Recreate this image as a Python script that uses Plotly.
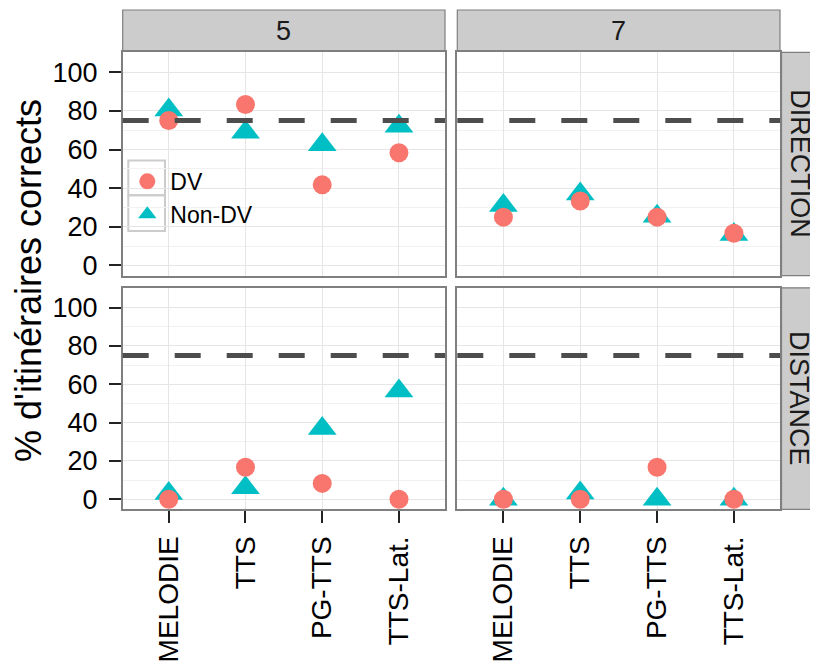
import plotly.graph_objects as go

# ---------------- data ----------------
categories = ["MELODIE", "TTS", "PG-TTS", "TTS-Lat."]
col_labels = ["5", "7"]
row_labels = ["DIRECTION", "DISTANCE"]
series_names = ["DV", "Non-DV"]

dv_5_direction = [75, 83.3, 41.7, 58.3]
nondv_5_direction = [80.5, 69, 62.5, 72]
dv_7_direction = [25, 33.3, 25, 16.7]
nondv_7_direction = [31, 37, 25.5, 16]
dv_5_distance = [0, 16.7, 8.3, 0]
nondv_5_distance = [3, 6, 37, 56.5]
dv_7_distance = [0, 0, 16.7, 0]
nondv_7_distance = [0, 3.3, 0, 0]
threshold = 75

y_ticks = [0, 20, 40, 60, 80, 100]
y_minor = [10, 30, 50, 70, 90]

panel_data = {
    (0, 0): (dv_5_direction, nondv_5_direction),
    (0, 1): (dv_7_direction, nondv_7_direction),
    (1, 0): (dv_5_distance, nondv_5_distance),
    (1, 1): (dv_7_distance, nondv_7_distance),
}

# ---------------- geometry (screen pixels; page body has an 8px margin) ----------------
OFF = 8
W, H = 810, 660
col_px = [(122.7, 445.0), (457.3, 780.0)]
row_px = [(52.7, 277.7), (290.0, 513.3)]
top_strip_px = (10.0, 51.5)
right_strip_px = (781.5, 818.0)

def fx(px):
    return (px - OFF) / W

def fy(py):
    return 1 - (py - OFF) / H

DV_COLOR = "#F8766D"
NDV_COLOR = "#00BFC4"
FONT = "Liberation Sans, Arial, Helvetica, sans-serif"
TICK_SIZE = 27

fig = go.Figure()

def axis_names(r, c):
    i = r * 2 + c + 1
    s = "" if i == 1 else str(i)
    return "x" + s, "y" + s, "xaxis" + s, "yaxis" + s

first = True
for (r, c), (dv_vals, ndv_vals) in panel_data.items():
    xa, ya, xkey, ykey = axis_names(r, c)
    fig.add_trace(go.Scatter(
        x=categories, y=ndv_vals, mode="markers", name=series_names[1],
        marker=dict(symbol="triangle-up", size=25, color=NDV_COLOR, line=dict(width=0)),
        xaxis=xa, yaxis=ya, showlegend=first, legendgroup="ndv", legendrank=2,
    ))
    fig.add_trace(go.Scatter(
        x=categories, y=dv_vals, mode="markers", name=series_names[0],
        marker=dict(symbol="circle", size=19, color=DV_COLOR, line=dict(width=0)),
        xaxis=xa, yaxis=ya, showlegend=first, legendgroup="dv", legendrank=1,
    ))
    first = False

    bottom = (r == 1)
    left = (c == 0)
    fig.layout[xkey] = dict(
        domain=[fx(col_px[c][0]), fx(col_px[c][1])],
        anchor=ya,
        type="category",
        categoryorder="array",
        categoryarray=categories,
        range=[-0.6, 3.6],
        showgrid=True, gridcolor="#E5E5E5", gridwidth=1,
        showline=True, mirror=True, linecolor="#7F7F7F", linewidth=1.5,
        zeroline=False,
        showticklabels=bottom,
        ticks="outside" if bottom else "",
        ticklen=12, tickwidth=2, tickcolor="#222222",
        tickangle=-90,
        ticklabelstandoff=2,
        tickfont=dict(family=FONT, size=28, color="#000000"),
        fixedrange=True,
    )
    fig.layout[ykey] = dict(
        domain=[fy(row_px[r][1]), fy(row_px[r][0])],
        anchor=xa,
        range=[-5.3, 110.3],
        tickmode="array", tickvals=y_ticks, ticktext=[str(v) for v in y_ticks],
        showgrid=True, gridcolor="#E5E5E5", gridwidth=1,
        minor=dict(tickmode="array", tickvals=y_minor,
                   showgrid=True, gridcolor="#F2F2F2", gridwidth=1),
        showline=True, mirror=True, linecolor="#7F7F7F", linewidth=1.5,
        zeroline=False,
        showticklabels=left,
        ticks="outside" if left else "",
        ticklen=12, tickwidth=2, tickcolor="#222222",
        ticklabelstandoff=6,
        tickfont=dict(family=FONT, size=TICK_SIZE, color="#000000"),
        fixedrange=True,
    )
    fig.add_shape(type="line", xref=xa + " domain", x0=0, x1=1,
                  yref=ya, y0=threshold, y1=threshold,
                  line=dict(color="#4D4D4D", width=5, dash="26px,26px"))

# strips
for c, lab in enumerate(col_labels):
    fig.add_shape(type="rect", xref="paper", yref="paper",
                  x0=fx(col_px[c][0]), x1=fx(col_px[c][1]),
                  y0=fy(top_strip_px[1]), y1=fy(top_strip_px[0]),
                  fillcolor="#CCCCCC", line=dict(color="#7F7F7F", width=1.2), layer="below")
    fig.add_annotation(x=fx((col_px[c][0] + col_px[c][1]) / 2),
                       y=fy((top_strip_px[0] + top_strip_px[1]) / 2),
                       xref="paper", yref="paper", text=lab, showarrow=False,
                       xanchor="center", yanchor="middle",
                       font=dict(family=FONT, size=27, color="#1A1A1A"))
for r, lab in enumerate(row_labels):
    fig.add_shape(type="rect", xref="paper", yref="paper",
                  x0=fx(right_strip_px[0]), x1=fx(right_strip_px[1]) + 0.01,
                  y0=fy(row_px[r][1]), y1=fy(row_px[r][0]),
                  fillcolor="#CCCCCC", line=dict(color="#7F7F7F", width=1.2), layer="below")
    fig.add_annotation(x=fx((right_strip_px[0] + right_strip_px[1]) / 2),
                       y=fy((row_px[r][0] + row_px[r][1]) / 2),
                       xref="paper", yref="paper", text=lab, showarrow=False,
                       xanchor="center", yanchor="middle",
                       textangle=90,
                       font=dict(family=FONT, size=27, color="#1A1A1A"))

# y-axis title
fig.add_annotation(x=fx(29), y=fy((row_px[0][0] + row_px[1][1]) / 2),
                   xref="paper", yref="paper", text="% d'itinéraires corrects",
                   showarrow=False, textangle=-90,
                   xanchor="center", yanchor="middle",
                   font=dict(family=FONT, size=36, color="#000000"))

# legend key boxes
key_left, key_right = 128.3, 165.0
key_rows = [(161.7, 196.7), (196.7, 232.7)]
for (t, b) in key_rows:
    fig.add_shape(type="rect", xref="paper", yref="paper",
                  x0=fx(key_left), x1=fx(key_right), y0=fy(b), y1=fy(t),
                  fillcolor="rgba(255,255,255,0)", line=dict(color="#CCCCCC", width=2),
                  layer="below")

fig.update_layout(
    width=W, height=H,
    margin=dict(l=0, r=0, t=0, b=0),
    paper_bgcolor="white", plot_bgcolor="white",
    font=dict(family=FONT, color="#000000"),
    legend=dict(x=fx(124.3), y=fy(161.0), xanchor="left", yanchor="top",
                bgcolor="rgba(0,0,0,0)", borderwidth=0,
                font=dict(family=FONT, size=23, color="#000000"),
                itemwidth=36,
                tracegroupgap=0, itemsizing="trace"),
)

fig.write_html("out.html")
